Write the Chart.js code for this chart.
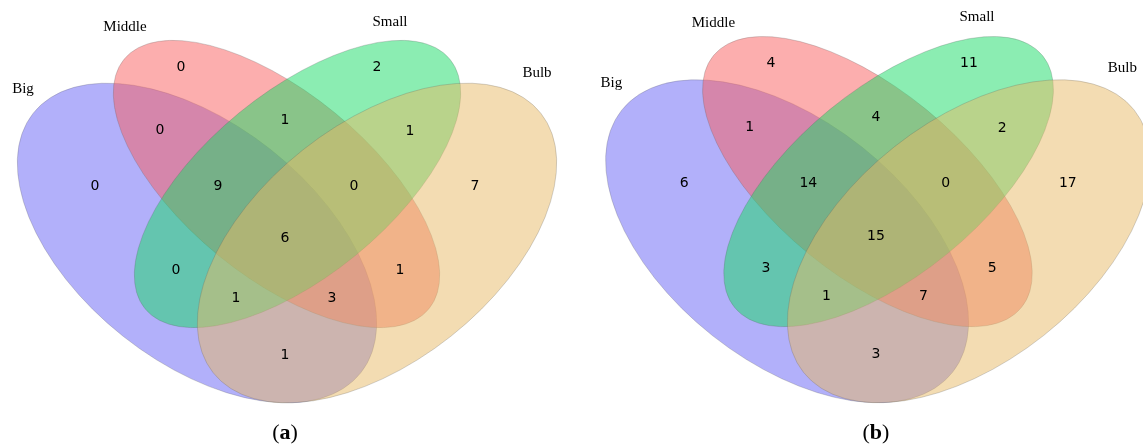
<!DOCTYPE html>
<html>
<head>
<meta charset="utf-8">
<script src="https://cdn.jsdelivr.net/npm/chart.js@4.4.0/dist/chart.umd.min.js"></script>
<style>
  body { margin: 0; background: #fff; }
  .wrap { position: relative; width: 1143px; height: 447px; }
  canvas { position: absolute; top: 0; }
</style>
</head>
<body>
<div class="wrap">
  <canvas id="chartA" width="571" height="447" style="left:0px"></canvas>
  <canvas id="chartB" width="571" height="447" style="left:572px"></canvas>
</div>
<script>
// set names and their colours
const setNames = ["Big", "Middle", "Small", "Bulb"]
const setColors = ["rgba(101, 97, 245, 0.5)", "rgba(249, 93, 93, 0.5)", "rgba(23, 219, 101, 0.5)", "rgba(231, 185, 101, 0.5)"]

// regions of the diagram (which sets they belong to)
const regions = ["Middle", "Small", "Middle&Small", "Big&Middle", "Small&Bulb", "Big", "Big&Middle&Small",
    "Middle&Small&Bulb", "Bulb", "Big&Middle&Small&Bulb", "Big&Small", "Middle&Bulb", "Big&Small&Bulb",
    "Big&Middle&Bulb", "Big&Bulb"]

// counts per region, panel (a) and panel (b)
const countsA = [0, 2, 1, 0, 1, 0, 9, 0, 7, 6, 0, 1, 1, 3, 1]
const countsB = [4, 11, 4, 1, 2, 6, 14, 0, 17, 15, 3, 5, 1, 7, 3]

// layout (in diagram units)
const regionPos = [[181, 67], [377, 67], [285, 120], [160, 130], [410, 131], [95, 186], [218, 186],
    [354, 186], [475, 186], [285, 238], [176, 270], [400, 270], [236, 298], [332, 298], [285, 355]]
// ellipse: cx, cy, semi-major, semi-minor, rotation in degrees
const ellipses = [[197, 243, 209, 119, 38.4], [276.5, 184, 197, 92, 39.3], [297.5, 184, 197, 92, -39.3], [377, 243, 209, 119, -38.4]]
const namePosA = [[23, 89], [125, 27], [390, 22], [537, 73]]
const namePosB = [[23, 87], [124, 27], [385, 21], [529, 72]]

function vennPlugin(panelLabel, namePos) {
    return {
        id: "venn",
        beforeDatasetsDraw(chart) {
            const { ctx, scales: { x, y } } = chart
            ctx.save()
            ellipses.forEach((e, i) => {
                const px = x.getPixelForValue(e[0])
                const py = y.getPixelForValue(e[1])
                const rx = Math.abs(x.getPixelForValue(e[0] + e[2]) - px)
                const ry = Math.abs(y.getPixelForValue(e[1] + e[3]) - py)
                ctx.beginPath()
                ctx.ellipse(px, py, rx, ry, e[4] * Math.PI / 180, 0, Math.PI * 2)
                ctx.fillStyle = setColors[i]
                ctx.fill()
                ctx.strokeStyle = "rgba(90, 90, 90, 0.25)"
                ctx.lineWidth = 1
                ctx.stroke()
            })
            ctx.restore()
        },
        afterDatasetsDraw(chart) {
            const { ctx, scales: { x, y } } = chart
            const counts = chart.data.datasets[0].counts
            const meta = chart.getDatasetMeta(0)
            ctx.save()
            ctx.textAlign = "center"
            ctx.textBaseline = "middle"
            ctx.fillStyle = "#000"
            ctx.font = "14px 'DejaVu Sans'"
            meta.data.forEach((pt, i) => {
                ctx.fillText(String(counts[i]), pt.x, pt.y)
            })
            ctx.font = "15px 'Liberation Serif'"
            setNames.forEach((name, i) => {
                ctx.fillText(name, x.getPixelForValue(namePos[i][0]), y.getPixelForValue(namePos[i][1]))
            })
            // panel caption "(a)" / "(b)" with bold letter
            const cx = x.getPixelForValue(285)
            const cy = y.getPixelForValue(433)
            ctx.font = "bold 22px 'Liberation Serif'"
            const wl = ctx.measureText(panelLabel).width
            ctx.font = "22px 'Liberation Serif'"
            const wp = ctx.measureText("(").width
            const total = wl + 2 * wp
            let left = cx - total / 2
            ctx.textAlign = "left"
            ctx.fillText("(", left, cy)
            ctx.font = "bold 22px 'Liberation Serif'"
            ctx.fillText(panelLabel, left + wp, cy)
            ctx.font = "22px 'Liberation Serif'"
            ctx.fillText(")", left + wp + wl, cy)
            ctx.restore()
        }
    }
}

function createVenn(canvasId, counts, xRange, yRange, panelLabel, namePos) {
    const ctx = document.getElementById(canvasId).getContext("2d")
    return new Chart(ctx, {
        type: "scatter",
        data: {
            datasets: [{
                data: regionPos.map(p => ({ x: p[0], y: p[1] })),
                counts: counts,
                pointRadius: 0,
                pointHoverRadius: 0
            }]
        },
        options: {
            responsive: false,
            animation: false,
            layout: { padding: 0 },
            scales: {
                x: { type: "linear", min: xRange[0], max: xRange[1], display: false },
                y: { type: "linear", min: yRange[0], max: yRange[1], reverse: true, display: false }
            },
            plugins: {
                legend: { display: false },
                tooltip: { enabled: false }
            }
        },
        plugins: [vennPlugin(panelLabel, namePos)]
    })
}

createVenn("chartA", countsA, [0, 571], [0, 447], "a", namePosA)
createVenn("chartB", countsB, [-16, 549.4], [4.4, 446.5], "b", namePosB)
</script>
</body>
</html>
